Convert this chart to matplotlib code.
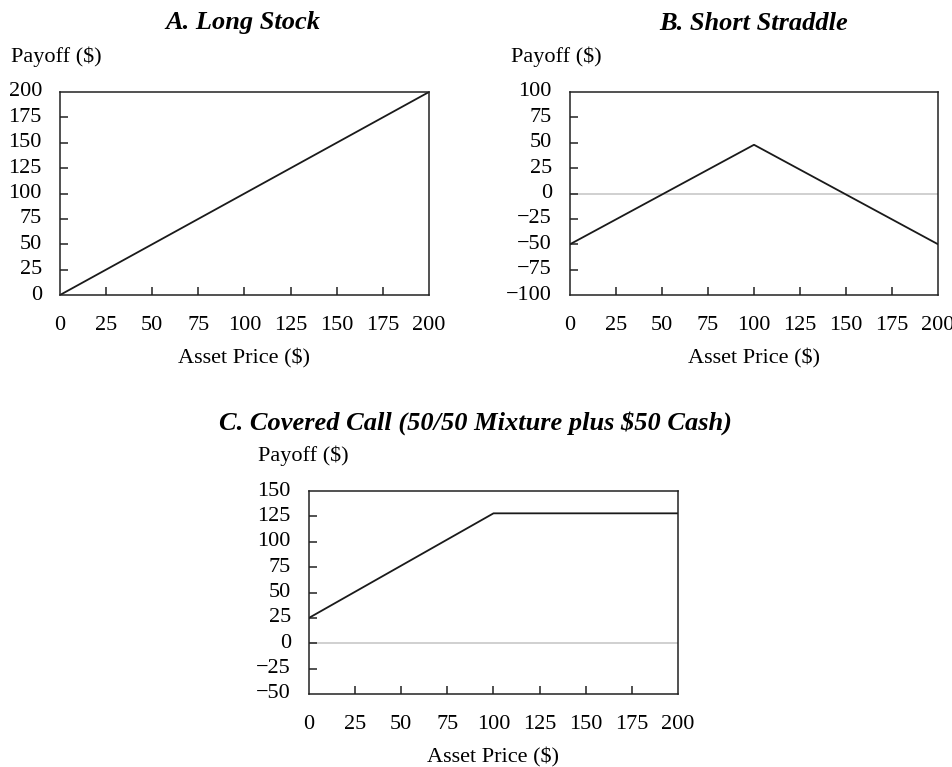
## payoff diagrams: long stock, short straddle, covered call
import numpy as np
import matplotlib.pyplot as plt

plt.rcParams['font.family'] = ['Liberation Serif', 'DejaVu Serif']
plt.rcParams['axes.unicode_minus'] = True

# Asset prices at the kinks of each payoff line
price_a = [0, 200]
payoff_a = [0, 200]

price_b = [0, 100, 200]
payoff_b = [-50, 48, -50]

price_c = [0, 100, 200]
payoff_c = [25, 128, 128]

x_ticks = [0, 25, 50, 75, 100, 125, 150, 175, 200]
y_ticks_a = [0, 25, 50, 75, 100, 125, 150, 175, 200]
y_ticks_b = [-100, -75, -50, -25, 0, 25, 50, 75, 100]
y_ticks_c = [-50, -25, 0, 25, 50, 75, 100, 125, 150]

titles = ['A. Long Stock', 'B. Short Straddle',
          'C. Covered Call (50/50 Mixture plus $50 Cash)']

W, H = 953, 767
LABEL_FS = 16
TITLE_FS = 19
fig = plt.figure(figsize=(W / 100, H / 100), dpi=100)


def px_axes(left, top, right, bottom):
    return fig.add_axes([left / W, 1 - bottom / H, (right - left) / W, (bottom - top) / H])


def fmt(v):
    return '\u2212{}'.format(-v) if v < 0 else '{}'.format(v)


def setup(ax, yticks, xs, ys, zero_line):
    if zero_line:
        ax.axhline(0, color='#c8c8c8', lw=1.2, zorder=1)
    ax.plot(xs, ys, color='#1a1a1a', lw=1.3, zorder=2)
    ax.set_xlim(0, 200)
    ax.set_ylim(yticks[0], yticks[-1])
    for s in ax.spines.values():
        s.set_linewidth(1.1)
        s.set_color('#222222')
    # tick marks only at interior values, pointing inward
    ax.set_xticks(x_ticks[1:-1])
    ax.set_yticks(yticks[1:-1])
    ax.set_xticklabels([])
    ax.set_yticklabels([])
    ax.tick_params(direction='in', length=6, width=1.1, color='#222222',
                   top=False, right=False)
    # tick labels drawn as text so the end values show too
    for v in x_ticks:
        ax.text(v, -0.15, fmt(v), transform=ax.get_xaxis_transform(),
                ha='center', va='center', fontsize=LABEL_FS)
    for v in yticks:
        ax.text(-0.049, v, fmt(v), transform=ax.get_yaxis_transform(),
                ha='right', va='center', fontsize=LABEL_FS)
    ax.text(0.5, -0.315, 'Asset Price ($)', transform=ax.transAxes,
            ha='center', va='center', fontsize=LABEL_FS)


# Panel A
ax1 = px_axes(60, 92, 429, 295)
setup(ax1, y_ticks_a, price_a, payoff_a, False)
fig.text(243 / W, 1 - 23 / H, titles[0], ha='center', va='center',
         fontsize=TITLE_FS, style='italic', weight='bold')
fig.text(11 / W, 1 - 57 / H, 'Payoff ($)', ha='left', va='center', fontsize=LABEL_FS)

# Panel B
ax2 = px_axes(570, 92, 938, 295)
setup(ax2, y_ticks_b, price_b, payoff_b, True)
fig.text(754 / W, 1 - 23 / H, titles[1], ha='center', va='center',
         fontsize=TITLE_FS, style='italic', weight='bold')
fig.text(511 / W, 1 - 57 / H, 'Payoff ($)', ha='left', va='center', fontsize=LABEL_FS)

# Panel C
ax3 = px_axes(309, 491, 678, 694)
setup(ax3, y_ticks_c, price_c, payoff_c, True)
fig.text(475 / W, 1 - 423 / H, titles[2], ha='center', va='center',
         fontsize=TITLE_FS, style='italic', weight='bold')
fig.text(258 / W, 1 - 456 / H, 'Payoff ($)', ha='left', va='center', fontsize=LABEL_FS)

fig.savefig('out.png', dpi=100)
